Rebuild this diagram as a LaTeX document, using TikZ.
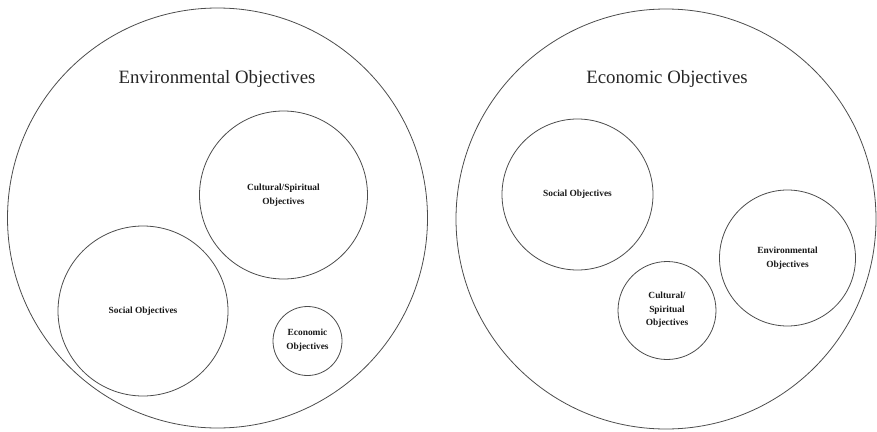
\documentclass[tikz,border=0pt]{standalone}
\usepackage{fontspec}
\setmainfont{Liberation Serif}
\begin{document}
\begin{tikzpicture}[x=1pt,y=-1pt,
  ring/.style={draw=black!70,line width=0.8pt,circle,inner sep=0pt},
  title/.style={font=\fontsize{18.8}{22}\selectfont,text=black!85},
  label/.style={font=\fontsize{9.4}{13.5}\selectfont\bfseries,text=black!90,align=center}]
\useasboundingbox (0,0) rectangle (877,431);
% left diagram: environmental objectives as the enclosing whole
\node[ring,minimum size=420pt] (envL) at (217.5,218) {};
\node[title] (envLt) at (217,79) {Environmental Objectives};
\node[ring,minimum size=168pt] (culL) at (283.5,195) {};
\node[label] (culLt) at (283.5,195) {Cultural/Spiritual\\Objectives};
\node[ring,minimum size=170pt] (socL) at (143,311) {};
\node[label] (socLt) at (143,311) {Social Objectives};
\node[ring,minimum size=69pt] (ecoL) at (307.5,341) {};
\node[label] (ecoLt) at (307.5,340) {Economic\\Objectives};
% right diagram: economic objectives as the enclosing whole
\node[ring,minimum size=420pt] (ecoR) at (666,219) {};
\node[title] (ecoRt) at (667,79) {Economic Objectives};
\node[ring,minimum size=151pt] (socR) at (577.5,194.5) {};
\node[label] (socRt) at (577.5,194.5) {Social Objectives};
\node[ring,minimum size=98pt] (culR) at (667,310.5) {};
\node[label] (culRt) at (667,310) {Cultural/\\Spiritual\\Objectives};
\node[ring,minimum size=136pt] (envR) at (787.5,258) {};
\node[label] (envRt) at (787.5,258) {Environmental\\Objectives};
\end{tikzpicture}
\end{document}
